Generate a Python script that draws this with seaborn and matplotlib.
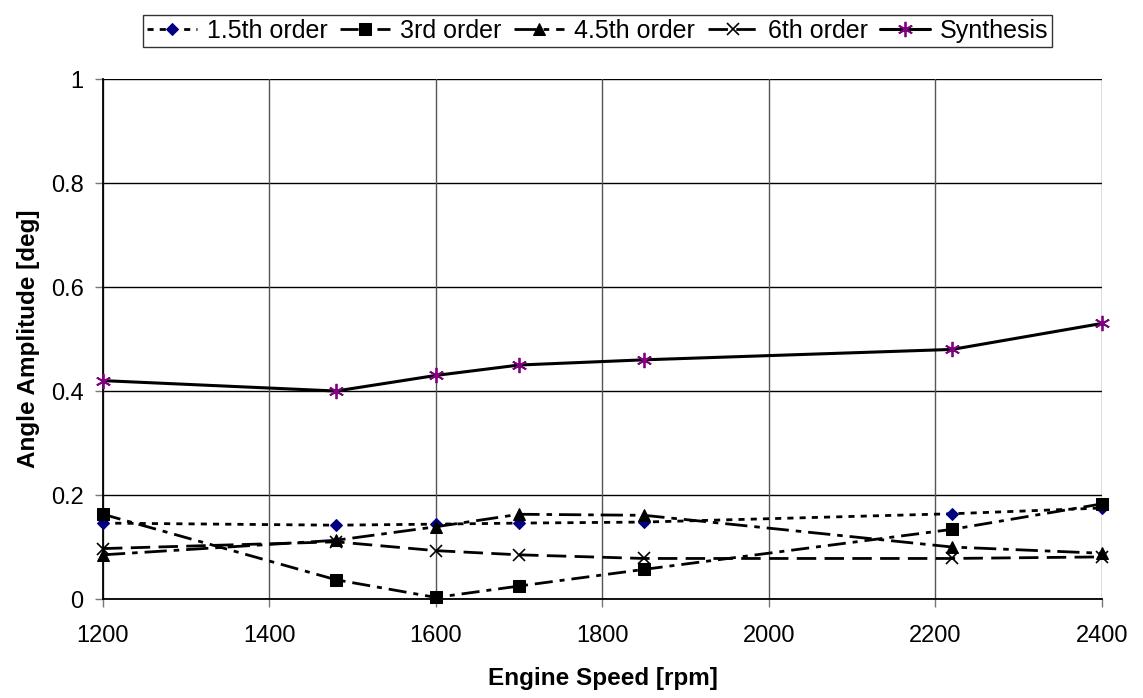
import matplotlib
matplotlib.use("Agg")
import matplotlib.pyplot as plt
import seaborn as sns
import pandas as pd

rpm = [1200, 1480, 1600, 1700, 1850, 2220, 2400]
order_1_5 = [0.146, 0.142, 0.144, 0.146, 0.148, 0.164, 0.175]
order_3 = [0.163, 0.037, 0.003, 0.025, 0.057, 0.134, 0.183]
order_4_5 = [0.085, 0.113, 0.139, 0.163, 0.161, 0.100, 0.088]
order_6 = [0.097, 0.110, 0.093, 0.085, 0.078, 0.078, 0.081]
synthesis = [0.42, 0.40, 0.43, 0.45, 0.46, 0.48, 0.53]

series_names = ["1.5th order", "3rd order", "4.5th order", "6th order", "Synthesis"]
series_values = [order_1_5, order_3, order_4_5, order_6, synthesis]

xticks = [1200, 1400, 1600, 1800, 2000, 2200, 2400]
yticks = [0, 0.2, 0.4, 0.6, 0.8, 1]
ytick_labels = ["0", "0.2", "0.4", "0.6", "0.8", "1"]

sns.set_theme(style="white")
plt.rcParams["font.family"] = ["Liberation Sans", "DejaVu Sans"]
plt.rcParams["text.color"] = "black"
plt.rcParams["axes.labelcolor"] = "black"

fig = plt.figure(figsize=(11.43, 6.98), dpi=100)
ax = fig.add_axes([0.0901, 0.1418, 0.8740, 0.7450])

styles = {
    "1.5th order": dict(color="black", linestyle=(0, (2.2, 2.2)), marker="D",
                        markersize=6.5, markerfacecolor="#000080", markeredgecolor="#000080", lw=2),
    "3rd order": dict(color="black", linestyle=(0, (6.5, 2.5, 1.8, 2.5)), marker="s",
                      markersize=8, markerfacecolor="black", markeredgecolor="black", lw=2),
    "4.5th order": dict(color="black", linestyle=(0, (8, 2.5, 2, 2.5)), marker="^",
                        markersize=8.5, markerfacecolor="black", markeredgecolor="black", lw=2),
    "6th order": dict(color="black", linestyle=(0, (7, 3)), marker="x",
                      markersize=9, markerfacecolor="black", markeredgecolor="black",
                      markeredgewidth=1.2, lw=2),
    "Synthesis": dict(color="black", linestyle="-", marker=(6, 2, 0),
                      markersize=11, markerfacecolor="#800080", markeredgecolor="#800080",
                      markeredgewidth=1.3, lw=2.2),
}

for name, vals in zip(series_names, series_values):
    df = pd.DataFrame({"rpm": rpm, "amp": vals})
    sns.lineplot(data=df, x="rpm", y="amp", ax=ax, label=name, clip_on=False,
                 zorder=3, **styles[name])

ax.set_xlim(1200, 2400)
ax.set_ylim(0, 1)
ax.set_xticks(xticks)
ax.set_xticklabels([str(t) for t in xticks])
ax.set_yticks(yticks)
ax.set_yticklabels(ytick_labels)

ax.grid(False)
for y in yticks:
    ax.axhline(y, color="black", lw=1.0, zorder=0)
for x in xticks:
    ax.axvline(x, color="#555555", lw=1.0, zorder=0)

for s in ["top", "right"]:
    ax.spines[s].set_visible(False)
for s in ["left", "bottom"]:
    ax.spines[s].set_color("black")
    ax.spines[s].set_linewidth(1.3)

ax.tick_params(axis="both", which="major", direction="out", length=6, width=1,
               color="#777777", labelsize=17, labelcolor="black",
               bottom=True, left=True)
ax.tick_params(axis="x", pad=13)
ax.tick_params(axis="y", pad=8)

ax.set_xlabel("Engine Speed [rpm]", fontsize=17.5, fontweight="bold", labelpad=14, color="black")
ax.set_ylabel("Angle Amplitude [deg]", fontsize=17.5, fontweight="bold", labelpad=8, color="black")

leg = ax.legend(loc="center", bbox_to_anchor=(0.523, 0.9556), bbox_transform=fig.transFigure,
                ncol=5, frameon=True, fancybox=False, fontsize=18, handlelength=2.0,
                handletextpad=0.4, columnspacing=0.5, borderpad=0.15, borderaxespad=0)
leg.get_frame().set_edgecolor("black")
leg.get_frame().set_linewidth(1.0)
for t in leg.get_texts():
    t.set_color("black")

fig.savefig("out.png", dpi=100)
